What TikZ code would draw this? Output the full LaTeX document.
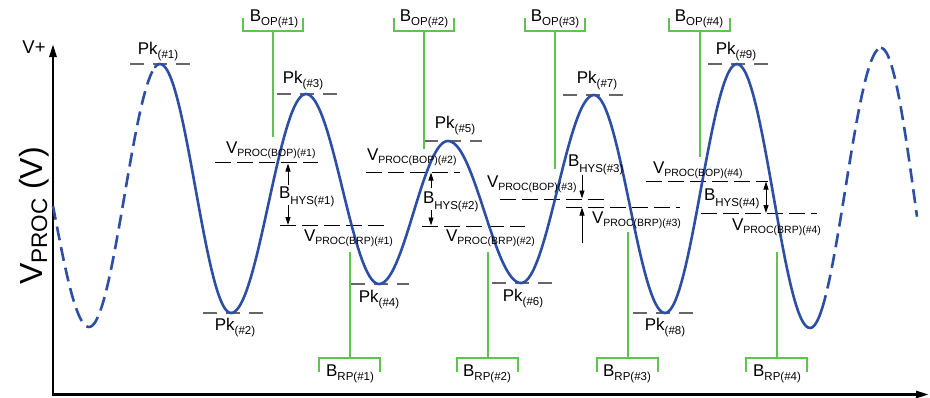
\documentclass[tikz,border=0pt]{standalone}
\usepackage{fontspec}
\setmainfont{Liberation Sans}
\usetikzlibrary{arrows.meta}
\definecolor{wave}{RGB}{45,78,165}
\definecolor{grn}{RGB}{95,195,80}
\definecolor{pkgray}{gray}{0.4}
\newcommand\sbx[2][4pt]{\raisebox{-#1}{\fontsize{11.5}{11.5}\selectfont #2}}
\newcommand\sbv[1]{\raisebox{-3pt}{\fontsize{10.5}{10.5}\selectfont #1}}
\newcommand\wseg[7]{\draw[#7] plot[domain=#5:#6,samples=40,smooth] (\x,{(#2+#4)/2+(#2-#4)/2*cos(180*(\x-#1)/(#3-#1))});}
\begin{document}
\begin{tikzpicture}[x=1pt,y=-1pt,
  every node/.style={inner sep=0pt,outer sep=0pt,font=\fontsize{17}{17}\selectfont},
  lab/.style={anchor=base},
  labw/.style={anchor=base west},
  pkline/.style={draw=pkgray,line width=1.2pt,dash pattern=on 14pt off 9pt},
  vline/.style={draw=black,line width=0.9pt,dash pattern=on 16pt off 6pt},
  gline/.style={draw=grn,line width=1.8pt},
  solidw/.style={draw=wave,line width=2.6pt,line cap=round},
  dashw/.style={draw=wave,line width=2.6pt,dash pattern=on 14pt off 7pt},
  hy/.style={line width=0.9pt,-{Triangle[length=8pt,width=5pt]}},
  axisline/.style={line width=2.6pt,-{Triangle[length=13pt,width=7pt]}}
]
\useasboundingbox (0,0) rectangle (930,397);
\fill[white] (0,0) rectangle (930,397);

% axes
\coordinate (org) at (53,394.5);
\coordinate (ytop) at (53,44);
\coordinate (xend) at (929,394.5);
\draw[axisline] (53,396) -- (ytop);
\draw[axisline] (org) -- (xend);
\node[lab,font=\fontsize{18.5}{18.5}\selectfont] (vplus) at (34,53) {V+};
\node[rotate=90,anchor=base,font=\fontsize{32}{32}\selectfont] (ylab) at (42,216) {V\raisebox{-5pt}{\fontsize{22.5}{22.5}\selectfont PROC} (V)};

% peak dashed lines
\draw[pkline] (130,64) -- (190,64);
\draw[pkline] (203,313) -- (263,313);
\draw[pkline] (277,94) -- (337,94);
\draw[pkline] (351,284) -- (409,284);
\draw[pkline] (424,141) -- (482,141);
\draw[pkline] (492,283) -- (552,283);
\draw[pkline] (563,95) -- (623,95);
\draw[pkline] (633,313) -- (693,313);
\draw[pkline] (708,64) -- (768,64);

% threshold dashed lines
\draw[vline] (215,162) -- (318,162);
\draw[vline] (280,225.5) -- (385,225.5);
\draw[vline] (366,172) -- (460,172);
\draw[vline] (422,226) -- (525,226);
\draw[vline] (500,199) -- (605,199);
\draw[vline] (566,207) -- (680,207);
\draw[vline] (646,181) -- (768,181);
\draw[vline] (701,213.5) -- (817,213.5);

% green brackets
\draw[gline] (243,18) |- (303,31) -- (303,18);
\draw[gline] (273,31) -- (273,137);
\draw[gline] (394,18) |- (454,31) -- (454,18);
\draw[gline] (424,31) -- (424,149);
\draw[gline] (525,18) |- (585,31) -- (585,18);
\draw[gline] (555,31) -- (555,169);
\draw[gline] (669,18) |- (730,31) -- (730,18);
\draw[gline] (700,31) -- (700,157);
\draw[gline] (319,372) |- (380,358) -- (380,372);
\draw[gline] (350,358) -- (350,252);
\draw[gline] (457,372) |- (518,358) -- (518,372);
\draw[gline] (488,358) -- (488,252);
\draw[gline] (597,372) |- (658,358) -- (658,372);
\draw[gline] (628,358) -- (628,232);
\draw[gline] (746,372) |- (807,358) -- (807,372);
\draw[gline] (777,358) -- (777,252);

% waveform
\wseg{18}{90}{89}{327}{53}{89}{dashw}
\wseg{89}{327}{160}{64}{89}{155}{dashw}
\wseg{89}{327}{160}{64}{155}{160}{solidw}
\wseg{160}{64}{231}{313}{160}{231}{solidw}
\wseg{231}{313}{306}{94}{231}{306}{solidw}
\wseg{306}{94}{379}{284}{306}{379}{solidw}
\wseg{379}{284}{448}{141}{379}{448}{solidw}
\wseg{448}{141}{521}{283}{448}{521}{solidw}
\wseg{521}{283}{594}{95}{521}{594}{solidw}
\wseg{594}{95}{665}{313}{594}{665}{solidw}
\wseg{665}{313}{737}{64}{665}{737}{solidw}
\wseg{737}{64}{810}{328}{737}{810}{solidw}
\wseg{810}{328}{881}{48}{810}{822}{solidw}
\wseg{810}{328}{881}{48}{822}{881}{dashw}
\wseg{881}{48}{952}{378}{881}{917}{dashw}

% hysteresis arrows
\draw[hy] (288,185) -- (288,163.5);
\draw[hy] (288,205) -- (288,225);
\draw[hy] (431,188) -- (431,172.5);
\draw[hy] (431,210) -- (431,225.5);
\draw[hy] (582,175) -- (582,198.5);
\draw[hy] (582,243) -- (582,207.5);
\draw[line width=0.9pt,{Triangle[length=8pt,width=5pt]}-{Triangle[length=8pt,width=5pt]}] (766,181.5) -- (766,213);

% peak labels
\node[lab] (pk1) at (158,54) {Pk\sbx{(\#1)}};
\node[lab] (pk2) at (235,330) {Pk\sbx{(\#2)}};
\node[lab] (pk3) at (303,83) {Pk\sbx{(\#3)}};
\node[lab] (pk4) at (379,302) {Pk\sbx{(\#4)}};
\node[lab] (pk5) at (455,128) {Pk\sbx{(\#5)}};
\node[lab] (pk6) at (523,301) {Pk\sbx{(\#6)}};
\node[lab] (pk7) at (597,83) {Pk\sbx{(\#7)}};
\node[lab] (pk8) at (665,330) {Pk\sbx{(\#8)}};
\node[lab] (pk9) at (736,54) {Pk\sbx{(\#9)}};

% B_OP / B_RP labels
\node[lab] (bop1) at (274,21) {B\sbx{OP(\#1)}};
\node[lab] (bop2) at (424,21) {B\sbx{OP(\#2)}};
\node[lab] (bop3) at (555,21) {B\sbx{OP(\#3)}};
\node[lab] (bop4) at (699,21) {B\sbx{OP(\#4)}};
\node[lab] (brp1) at (350,376) {B\sbx{RP(\#1)}};
\node[lab] (brp2) at (487,376) {B\sbx{RP(\#2)}};
\node[lab] (brp3) at (627,376) {B\sbx{RP(\#3)}};
\node[lab] (brp4) at (777,376) {B\sbx{RP(\#4)}};

% V_PROC labels
\node[labw] (vb1) at (226,153) {V\sbv{PROC(BOP)(\#1)}};
\node[labw] (vr1) at (304,241) {V\sbv{PROC(BRP)(\#1)}};
\node[labw] (vb2) at (367,160) {V\sbv{PROC(BOP)(\#2)}};
\node[labw] (vr2) at (446,241) {V\sbv{PROC(BRP)(\#2)}};
\node[labw] (vb3) at (487,187) {V\sbv{PROC(BOP)(\#3)}};
\node[labw] (vr3) at (592,223) {V\sbv{PROC(BRP)(\#3)}};
\node[labw] (vb4) at (653,173) {V\sbv{PROC(BOP)(\#4)}};
\node[labw] (vr4) at (732,230) {V\sbv{PROC(BRP)(\#4)}};

% B_HYS labels
\node[labw] (h1) at (279,198) {B\sbx[6pt]{HYS(\#1)}};
\node[labw] (h2) at (423,203) {B\sbx[6pt]{HYS(\#2)}};
\node[labw] (h3) at (568,166) {B\sbx[6pt]{HYS(\#3)}};
\node[labw] (h4) at (704,200) {B\sbx[6pt]{HYS(\#4)}};
\end{tikzpicture}
\end{document}
